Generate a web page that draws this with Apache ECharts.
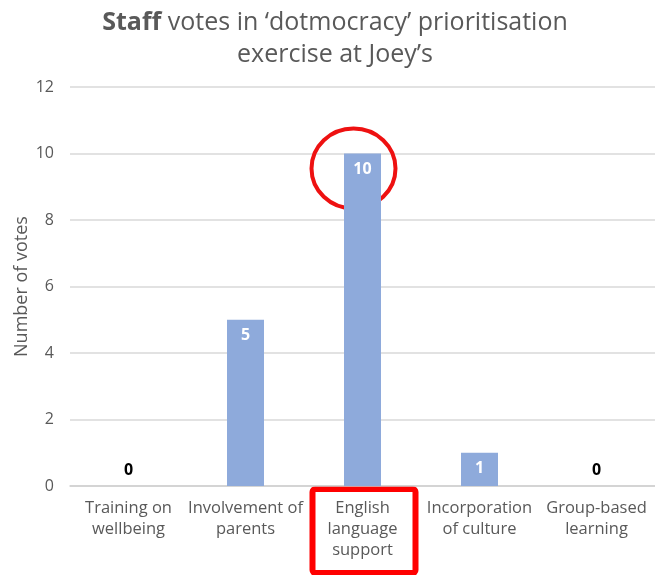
<!DOCTYPE html>
<html><head><meta charset="utf-8">
<script src="https://cdn.jsdelivr.net/npm/echarts@6/dist/echarts.min.js"></script>
<style>html,body{margin:0;padding:0;background:#fff}#c{width:655px;height:575px}</style>
</head><body><div id="c"></div>
<script>
const categories = ['Training on\nwellbeing', 'Involvement of\nparents', 'English\nlanguage\nsupport', 'Incorporation\nof culture', 'Group-based\nlearning'];
const votes = [0, 5, 10, 1, 0];
const yTicks = { min: 0, max: 12, interval: 2 };
const highlightIndex = 2;

const chart = echarts.init(document.getElementById('c'));
const FONT = 'Open Sans';
chart.setOption({
  animation: false,
  title: {
    text: '{b|Staff} votes in ‘dotmocracy’ prioritisation\nexercise at Joey’s',
    left: 330, top: 2, textAlign: 'center',
    textStyle: {
      fontFamily: FONT, fontSize: 25, color: '#595959', fontWeight: 'normal', lineHeight: 32, align: 'center',
      rich: { b: { fontFamily: FONT, fontSize: 25, fontWeight: 'bold', color: '#595959', lineHeight: 32 } }
    }
  },
  grid: { left: 70, right: 0, top: 87, bottom: 89, containLabel: false, outerBoundsMode: 'none' },
  xAxis: {
    type: 'category', data: categories,
    axisLine: { lineStyle: { color: '#d0d0d0', width: 1.5 } },
    axisTick: { show: false },
    axisLabel: { color: '#595959', fontFamily: FONT, fontSize: 16.5, lineHeight: 21, margin: 12, interval: 0 }
  },
  yAxis: {
    type: 'value', min: yTicks.min, max: yTicks.max, interval: yTicks.interval,
    name: 'Number of votes', nameLocation: 'middle', nameGap: 39, nameMoveOverlap: false,
    nameTextStyle: { color: '#595959', fontFamily: FONT, fontSize: 18 },
    axisLine: { show: false }, axisTick: { show: false },
    axisLabel: { color: '#595959', fontFamily: FONT, fontSize: 16, margin: 16 },
    splitLine: { lineStyle: { color: '#d9d9d9', width: 1.5 } }
  },
  series: [{
    type: 'bar', barWidth: 37,
    data: votes.map(v => ({
      value: v,
      label: v === 0
        ? { show: true, position: 'insideBottom', distance: 8, color: '#000', fontWeight: 'bold', fontSize: 16, fontFamily: FONT }
        : { show: true, position: 'insideTop', distance: 8, color: '#fff', fontWeight: 'bold', fontSize: 16, fontFamily: FONT }
    })),
    itemStyle: { color: '#8eaadb' }
  }]
});

const c = chart.convertToPixel({ gridIndex: 0 }, [highlightIndex, votes[highlightIndex]]);
const base = chart.convertToPixel({ gridIndex: 0 }, [highlightIndex, 0]);
chart.setOption({
  graphic: [
    { type: 'ellipse', shape: { cx: c[0] - 9, cy: c[1] + 15, rx: 42, ry: 40 },
      style: { fill: 'none', stroke: '#ee1111', lineWidth: 4 } },
    { type: 'rect', shape: { x: base[0] - 50, y: base[1] + 3, width: 103, height: 84, r: 3 },
      style: { fill: 'none', stroke: '#ff0000', lineWidth: 6 } }
  ]
});
</script></body></html>
